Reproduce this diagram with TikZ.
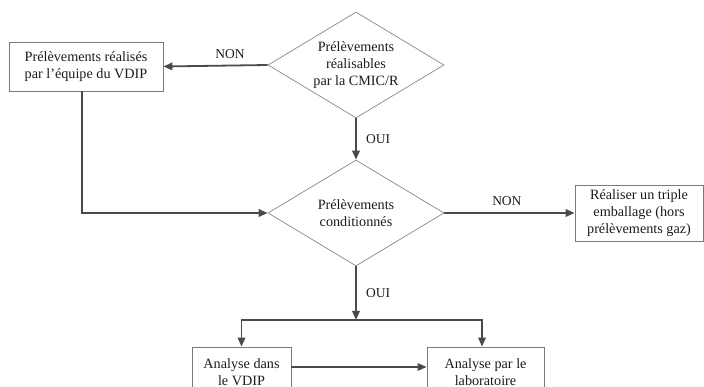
\documentclass[tikz,border=0pt]{standalone}
\usepackage{fontspec}
\setmainfont{Liberation Serif}
\usetikzlibrary{shapes.geometric,arrows.meta}
\definecolor{txt}{HTML}{1C1C1C}
\definecolor{linegray}{HTML}{4A4A4A}
\definecolor{boxgray}{HTML}{7A7A7A}
\definecolor{diagray}{HTML}{888888}
\begin{document}
\begin{tikzpicture}[x=1pt,y=-1pt,
  font=\fontsize{14.2}{17}\selectfont,
  box/.style={draw=boxgray, line width=0.8pt, align=center, inner sep=0pt, text=txt},
  dia/.style={diamond, draw=diagray, line width=0.7pt, align=center, inner sep=0pt,
    minimum width=176pt, minimum height=106pt, aspect=1.66, text=txt},
  conn/.style={draw=linegray, line width=1.8pt, -{Triangle[length=9pt,width=7.5pt]}},
  thinconn/.style={draw=linegray, line width=1.2pt, -{Triangle[length=9pt,width=7.5pt]}},
  lab/.style={font=\fontsize{13.5}{16}\selectfont, text=txt}]
\clip (0,0) rectangle (704,387);
\fill[white] (0,0) rectangle (704,387);

\node[box, minimum width=154pt, minimum height=49pt] (b1) at (86,66.5) {Prélèvements réalisés\\par l'équipe du VDIP};
\node[dia] (d1) at (356,65) {Prélèvements\\réalisables\\par la CMIC/R};
\node[dia] (d2) at (356,213) {Prélèvements\\conditionnés};
\node[box, minimum width=128pt, minimum height=56pt] (b3) at (639,213) {Réaliser un triple\\emballage (hors\\prélèvements gaz)};
\node[box, minimum width=99pt, minimum height=50pt] (b4) at (241.5,372) {Analyse dans\\le VDIP};
\node[box, minimum width=117pt, minimum height=50pt] (b5) at (485.5,372) {Analyse par le\\laboratoire};
\coordinate (j) at (356,320);

\draw[conn] (d1.west) -- (b1.east) node[lab, pos=0.36, above=3pt] {NON};
\draw[conn] (d1.south) -- (d2.north) node[lab, midway, right=6pt] {OUI};
\draw[conn] ([xshift=-4pt]b1.south) |- (d2.west);
\draw[conn] (d2.east) -- (b3.west) node[lab, pos=0.48, above=3pt] {NON};
\draw[conn] (d2.south) -- (j) node[lab, midway, right=6pt] {OUI};
\draw[conn] (j) -| (b4.north);
\draw[conn] (j) -| ([xshift=-3.5pt]b5.north);
\draw[thinconn] ([yshift=5pt]b4.east) -- ([yshift=5pt]b5.west);
\end{tikzpicture}
\end{document}
